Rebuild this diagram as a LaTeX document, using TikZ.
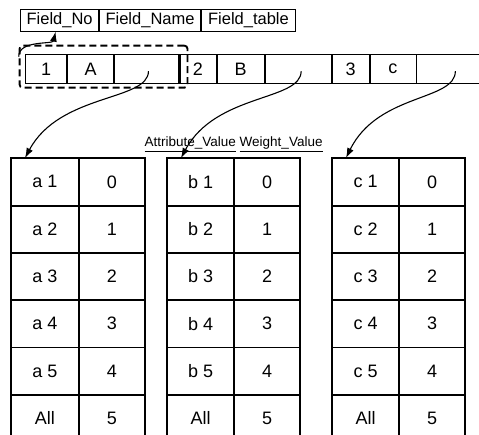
\documentclass[tikz,border=0pt]{standalone}
\usepackage{fontspec}
\setmainfont{Liberation Sans}
\usepackage{tikz}
\usetikzlibrary{arrows.meta,positioning,fit,calc}
\tikzstyle{HeaderCell} =[draw,line width=0.9pt,minimum height=22pt,inner sep=0pt,outer sep=0pt,font=\fontsize{16.5}{19}\selectfont]
\tikzstyle{FieldCell} =[draw,line width=0.9pt,minimum height=29pt,inner sep=0pt,outer sep=0pt,font=\fontsize{18}{21}\selectfont]
\tikzstyle{ValueCell} =[draw,line width=0.9pt,minimum height=46.4pt,inner sep=0pt,outer sep=0pt,font=\fontsize{18}{21}\selectfont]
\tikzstyle{GroupBorder} =[line width=2.8pt]
\tikzstyle{TableBorder} =[line width=2pt]
\tikzstyle{Pointer} =[-{Latex[length=10pt,width=7pt]},line width=1.1pt]
\tikzstyle{RecordBox} =[draw,dash pattern=on 7pt off 4pt,line width=1.9pt,rounded corners=3pt,inner sep=0pt]

\begin{document}
\begin{tikzpicture}[x=1pt,y=-1pt]
\useasboundingbox (0,0) rectangle (479,435);
\clip (0,0) rectangle (479,435);
% field header
\matrix [column sep=0pt,row sep=0pt,inner sep=0pt,nodes={anchor=center},anchor=north west] (Header) at (20,9) {
\node[HeaderCell,minimum width=78pt](Field-No){Field\_No};&
\node[HeaderCell,minimum width=101pt](Field-Name){Field\_Name};&
\node[HeaderCell,minimum width=94pt](Field-Table){Field\_table};\\
};
% field records
\matrix [column sep=0pt,row sep=0pt,inner sep=0pt,nodes={anchor=center},anchor=north west] (Records) at (25,54) {
\node[FieldCell,minimum width=41pt](Field-No-1){1};&
\node[FieldCell,minimum width=46pt](Field-Name-1){A};&
\node[FieldCell,minimum width=64pt](Field-Table-1){};&
\node[FieldCell,minimum width=37pt](Field-No-2){2};&
\node[FieldCell,minimum width=47pt](Field-Name-2){B};&
\node[FieldCell,minimum width=66pt](Field-Table-2){};&
\node[FieldCell,minimum width=37pt](Field-No-3){3};&
\node[FieldCell,minimum width=46pt](Field-Name-3){c};&
\node[FieldCell,minimum width=67pt](Field-Table-3){};\\
};
\draw[GroupBorder] (Field-No-2.north west) -- (Field-No-2.south west);
\draw[GroupBorder] (Field-No-3.north west) -- (Field-No-3.south west);
\coordinate (Record-1-NW) at ([xshift=-6pt,yshift=9pt]Field-No-1.north west);
\coordinate (Record-1-SE) at ([xshift=9pt,yshift=-4pt]Field-Table-1.south east);
\node[RecordBox,fit=(Record-1-NW)(Record-1-SE)](Record-1){};
% value tables
\matrix [column sep=0pt,row sep=0pt,inner sep=0pt,nodes={anchor=center},anchor=north west] (Values-a) at (11,158) {
\node[ValueCell,minimum width=66.5pt](Attr-a-1){a 1};& \node[ValueCell,minimum width=65.5pt](Weight-a-1){0};\\
\node[ValueCell,minimum width=66.5pt](Attr-a-2){a 2};& \node[ValueCell,minimum width=65.5pt](Weight-a-2){1};\\
\node[ValueCell,minimum width=66.5pt](Attr-a-3){a 3};& \node[ValueCell,minimum width=65.5pt](Weight-a-3){2};\\
\node[ValueCell,minimum width=66.5pt](Attr-a-4){a 4};& \node[ValueCell,minimum width=65.5pt](Weight-a-4){3};\\
\node[ValueCell,minimum width=66.5pt](Attr-a-5){a 5};& \node[ValueCell,minimum width=65.5pt](Weight-a-5){4};\\
\node[ValueCell,minimum width=66.5pt](Attr-a-All){All};& \node[ValueCell,minimum width=65.5pt](Weight-a-All){5};\\
};
\matrix [column sep=0pt,row sep=0pt,inner sep=0pt,nodes={anchor=center},anchor=north west] (Values-b) at (167,158) {
\node[ValueCell,minimum width=66pt](Attr-b-1){b 1};& \node[ValueCell,minimum width=65pt](Weight-b-1){0};\\
\node[ValueCell,minimum width=66pt](Attr-b-2){b 2};& \node[ValueCell,minimum width=65pt](Weight-b-2){1};\\
\node[ValueCell,minimum width=66pt](Attr-b-3){b 3};& \node[ValueCell,minimum width=65pt](Weight-b-3){2};\\
\node[ValueCell,minimum width=66pt](Attr-b-4){b 4};& \node[ValueCell,minimum width=65pt](Weight-b-4){3};\\
\node[ValueCell,minimum width=66pt](Attr-b-5){b 5};& \node[ValueCell,minimum width=65pt](Weight-b-5){4};\\
\node[ValueCell,minimum width=66pt](Attr-b-All){All};& \node[ValueCell,minimum width=65pt](Weight-b-All){5};\\
};
\matrix [column sep=0pt,row sep=0pt,inner sep=0pt,nodes={anchor=center},anchor=north west] (Values-c) at (332,158) {
\node[ValueCell,minimum width=66pt](Attr-c-1){c 1};& \node[ValueCell,minimum width=65pt](Weight-c-1){0};\\
\node[ValueCell,minimum width=66pt](Attr-c-2){c 2};& \node[ValueCell,minimum width=65pt](Weight-c-2){1};\\
\node[ValueCell,minimum width=66pt](Attr-c-3){c 3};& \node[ValueCell,minimum width=65pt](Weight-c-3){2};\\
\node[ValueCell,minimum width=66pt](Attr-c-4){c 4};& \node[ValueCell,minimum width=65pt](Weight-c-4){3};\\
\node[ValueCell,minimum width=66pt](Attr-c-5){c 5};& \node[ValueCell,minimum width=65pt](Weight-c-5){4};\\
\node[ValueCell,minimum width=66pt](Attr-c-All){All};& \node[ValueCell,minimum width=65pt](Weight-c-All){5};\\
};
\draw[TableBorder] (Values-a.north west) rectangle (Values-a.south east);
\draw[TableBorder] (Values-b.north west) rectangle (Values-b.south east);
\draw[TableBorder] (Values-c.north west) rectangle (Values-c.south east);
\node[above=6pt of Values-b,inner sep=0pt,font=\fontsize{13.5}{15}\selectfont](Column-Names){\underline{Attribute\_Value} \underline{Weight\_Value}};
% pointers
\draw[Pointer] ([yshift=-12pt]Record-1.north west) .. controls +(0,-17) and +(-3,13) .. ([xshift=-4pt]Field-No.south);
\draw[Pointer] ([xshift=2pt,yshift=-2pt]Field-Table-1.center) .. controls +(0,30) and +(35,-65) .. ([xshift=14pt]Values-a.north west);
\draw[Pointer] ([xshift=3pt,yshift=-2pt]Field-Table-2.center) .. controls +(0,30) and +(35,-65) .. ([xshift=14pt]Values-b.north west);
\draw[Pointer] ([xshift=5pt,yshift=-2pt]Field-Table-3.center) .. controls +(0,30) and +(32,-65) .. ([xshift=14pt]Values-c.north west);
\end{tikzpicture}
\end{document}
